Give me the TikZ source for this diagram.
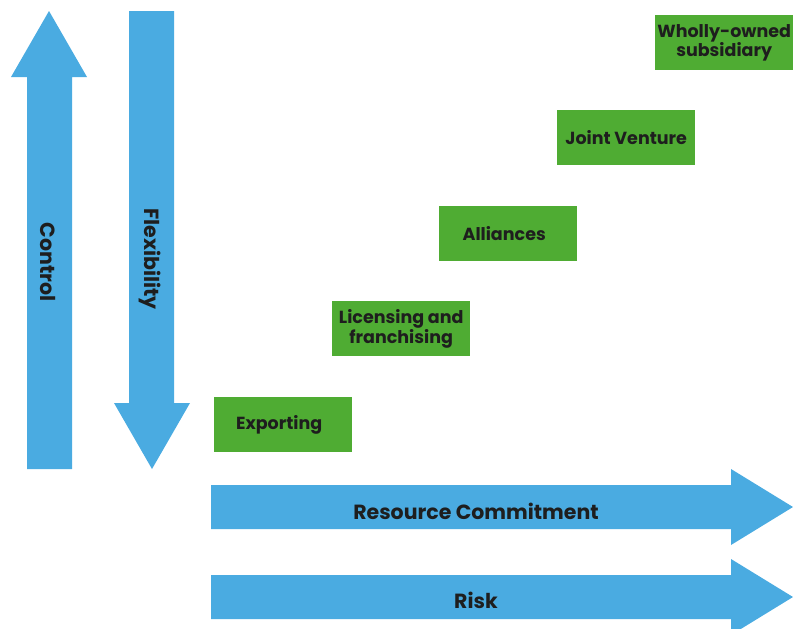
\documentclass[tikz,border=0pt]{standalone}
\usepackage{fontspec}
\setmainfont{Poppins}
\usetikzlibrary{positioning}
\definecolor{txt}{HTML}{1E1E1E}
\definecolor{arB}{HTML}{4AABE1}
\definecolor{gnF}{HTML}{4FAC33}

\begin{document}
\begin{tikzpicture}[
  x=1pt,y=-1pt,
  font=\bfseries,text=txt,
  mode/.style={fill=gnF,minimum width=138pt,minimum height=55pt,align=center,inner sep=0pt,anchor=north west,
    font=\fontsize{17.5}{18.5}\selectfont\bfseries},
  lbl/.style={inner sep=0pt,font=\fontsize{20.5}{22}\selectfont\bfseries},
  ]
\useasboundingbox (0,0) rectangle (793,629);

% ================= vertical arrows =================
\fill[arB] (27,469) -- (27,77) -- (11,77) -- (49,11) -- (87,77) -- (72,77) -- (72,469) -- cycle;
\node[lbl,rotate=-90] (ctrl) at (48,262) {Control};

\fill[arB] (129,11) -- (174,11) -- (174,403) -- (190,403) -- (152,469) -- (114,403) -- (129,403) -- cycle;
\node[lbl,rotate=-90] (flex) at (150,259) {Flexibility};

% ================= entry modes =================
\node[mode] (exp) at (214,397) {Exporting\hspace*{8pt}};
\node[mode] (lic) at (332,301) {Licensing and\\franchising};
\node[mode] (all) at (439,206) {Alliances\hspace*{8pt}};
\node[mode] (jv)  at (557,110) {Joint Venture};
\node[mode] (wos) at (655,15)  {Wholly-owned\\subsidiary};

% ================= horizontal arrows =================
\fill[arB] (211,485) -- (731,485) -- (731,469) -- (793,507) -- (731,545) -- (731,529) -- (211,529) -- cycle;
\node[lbl] (res) at (476,511) {Resource Commitment};

\fill[arB] (211,575) -- (731,575) -- (731,559) -- (793,597) -- (731,635) -- (731,619) -- (211,619) -- cycle;
\node[lbl] (risk) at (476,600) {Risk};

\end{tikzpicture}
\end{document}
